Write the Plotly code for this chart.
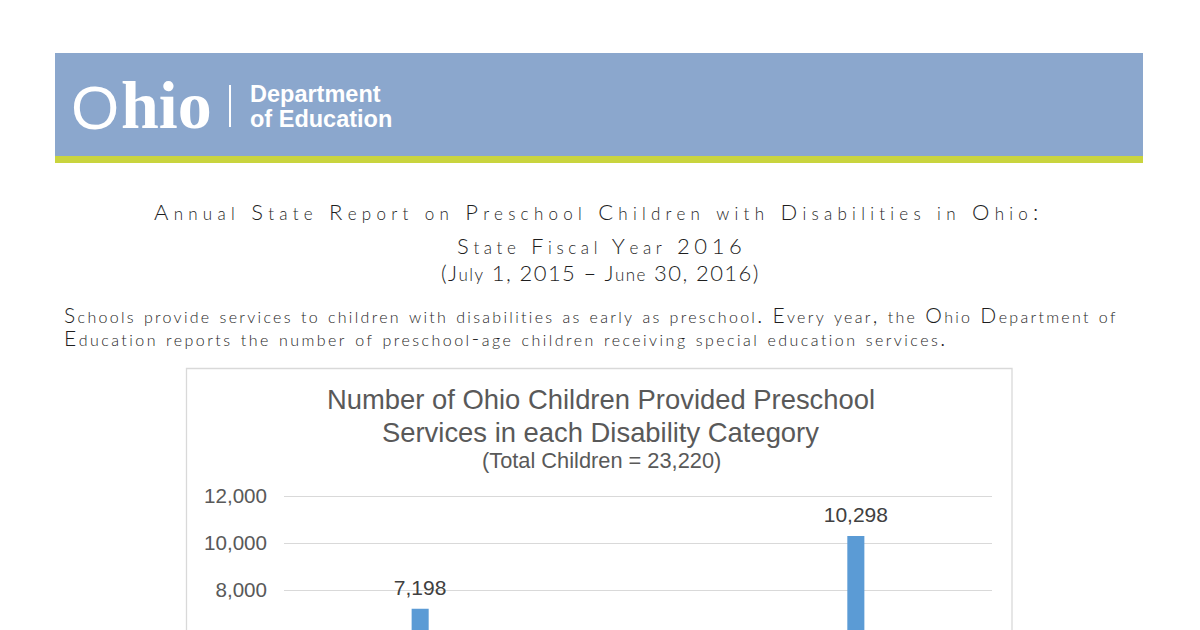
import plotly.graph_objects as go

# ---------------- data ----------------
categories = [
    "Autism", "Deaf-Blindness", "Developmental Delay", "Emotional Disturbance",
    "Hearing Impairment", "Intellectual Disability", "Multiple Disabilities",
    "Orthopedic Impairment", "Other Health Impairment (Major)",
    "Other Health Impairment (Minor)", "Speech and Language Impairment",
    "Traumatic Brain Injury", "Visual Impairment",
]
children = [2300, 5, 7198, 60, 300, 150, 1200, 250, 900, 300, 10298, 30, 229]
y_ticks = [6000, 8000, 10000, 12000]
y_tick_labels = ["6,000", "8,000", "10,000", "12,000"]

chart_title_lines = [
    "Number of Ohio Children Provided Preschool",
    "Services in each Disability Category",
]
chart_subtitle = "(Total Children = 23,220)"
heading_lines = [
    "Annual State Report on Preschool Children with Disabilities in Ohio:",
    "State Fiscal Year 2016",
    "(July 1, 2015 \u2013 June 30, 2016)",
]
para_lines = [
    "Schools provide services to children with disabilities as early as preschool. Every year, the Ohio Department of",
    "Education reports the number of preschool-age children receiving special education services.",
]

W, H = 1200, 630
OX, OY = 8, 8  # page body margin in the browser


def px(x):
    return (x - OX) / W


def py(y):
    return 1 - (y - OY) / H


def mixed(s, big, small, ls):
    """Lowercase letters small, everything else large (document font look)."""
    runs = []
    for ch in s:
        kind = ch.islower()
        if runs and runs[-1][0] == kind:
            runs[-1][1] += ch
        else:
            runs.append([kind, ch])
    out = ""
    for kind, txt in runs:
        size = small if kind else big
        out += f'<span style="font-size:{size}px;letter-spacing:{ls}px">{txt}</span>'
    return out


fig = go.Figure()

fig.add_trace(go.Bar(
    x=categories, y=children,
    marker=dict(color="#5B9BD5", line=dict(width=0)),
    hoverinfo="skip",
))
fig.add_trace(go.Scatter(
    x=categories, y=children,
    mode="markers+text",
    marker=dict(size=12, opacity=0),
    text=[f"{v:,}" for v in children],
    textposition="top center",
    textfont=dict(family="Liberation Sans, Arial", size=21, color="#404040"),
    hoverinfo="skip",
))

shapes = []
# header band
shapes.append(dict(type="rect", xref="paper", yref="paper", x0=px(55), x1=px(1143),
                   y0=py(156), y1=py(53), fillcolor="#8BA7CD", line=dict(width=0), layer="below"))
shapes.append(dict(type="rect", xref="paper", yref="paper", x0=px(55), x1=px(1143),
                   y0=py(163), y1=py(156), fillcolor="#C9D43E", line=dict(width=0), layer="below"))
shapes.append(dict(type="line", xref="paper", yref="paper", x0=px(230), x1=px(230),
                   y0=py(127), y1=py(85), line=dict(color="white", width=2)))
# chart frame
shapes.append(dict(type="rect", xref="paper", yref="paper", x0=px(186.5), x1=px(1012),
                   y0=py(720), y1=py(368.5), fillcolor="white",
                   line=dict(color="#D9D9D9", width=1.3), layer="below"))

annotations = []


def ann(text, x, y, size, color, family, xanchor="center", bold=False, weight=None):
    f = dict(family=family, size=size, color=color)
    if weight is not None:
        f["weight"] = weight
    annotations.append(dict(
        text=f"<b>{text}</b>" if bold else text,
        x=px(x), y=py(y), xref="paper", yref="paper",
        xanchor=xanchor, yanchor="middle", showarrow=False,
        font=f, align=xanchor if xanchor != "center" else "center",
    ))


# logo
ann("O", 69, 107, 62, "white", "Liberation Sans, Arial", xanchor="left")
ann("hio", 118.5, 104.5, 68, "white", "Liberation Serif, Times New Roman", xanchor="left", bold=True)
ann("Department", 247.5, 93.8, 23.5, "white", "Liberation Sans, Arial", xanchor="left", bold=True)
ann("of Education", 247.5, 119, 23.5, "white", "Liberation Sans, Arial", xanchor="left", bold=True)

doc_font = "Lato, Liberation Sans, sans-serif"
ann(mixed(heading_lines[0], 22, 17, 5.25), 599, 211.5, 22, "#1e1e1e", doc_font, weight=300)
ann(mixed(heading_lines[1], 22, 17, 4.6), 601, 245, 22, "#1e1e1e", doc_font, weight=300)
ann(mixed(heading_lines[2], 22, 17, 1.4), 600, 272, 22, "#1e1e1e", doc_font, weight=300)
ann(mixed(para_lines[0], 21, 16, 2.3), 62, 314.5, 21, "#1e1e1e", doc_font, xanchor="left", weight=300)
ann(mixed(para_lines[1], 21, 16, 2.46), 62, 337, 21, "#1e1e1e", doc_font, xanchor="left", weight=300)

# chart titles
ann(chart_title_lines[0], 601, 399.5, 27.4, "#595959", "Liberation Sans, Arial")
ann(chart_title_lines[1], 600, 432.5, 27.4, "#595959", "Liberation Sans, Arial")
ann(chart_subtitle, 601, 460, 21.8, "#595959", "Liberation Sans, Arial")

fig.update_layout(
    width=W, height=H,
    margin=dict(l=0, r=0, t=0, b=0, autoexpand=False),
    paper_bgcolor="white", plot_bgcolor="rgba(0,0,0,0)",
    showlegend=False,
    bargap=0.687,
    shapes=shapes,
    annotations=annotations,
    xaxis=dict(domain=[px(284), px(992)], range=[-0.5, len(categories) - 0.5],
               showgrid=False, zeroline=False, showline=False, automargin=False,
               ticks="", showticklabels=False, fixedrange=True),
    yaxis=dict(domain=[0, py(493.65)], range=[5957.4, 12100],
               tickvals=y_ticks, ticktext=y_tick_labels,
               showgrid=True, gridcolor="#D9D9D9", gridwidth=1.3,
               zeroline=False, showline=False, ticks="", automargin=False,
               ticklabelstandoff=16,
               tickfont=dict(family="Liberation Sans, Arial", size=20.6, color="#595959"),
               fixedrange=True),
)

fig.write_html("out.html")
